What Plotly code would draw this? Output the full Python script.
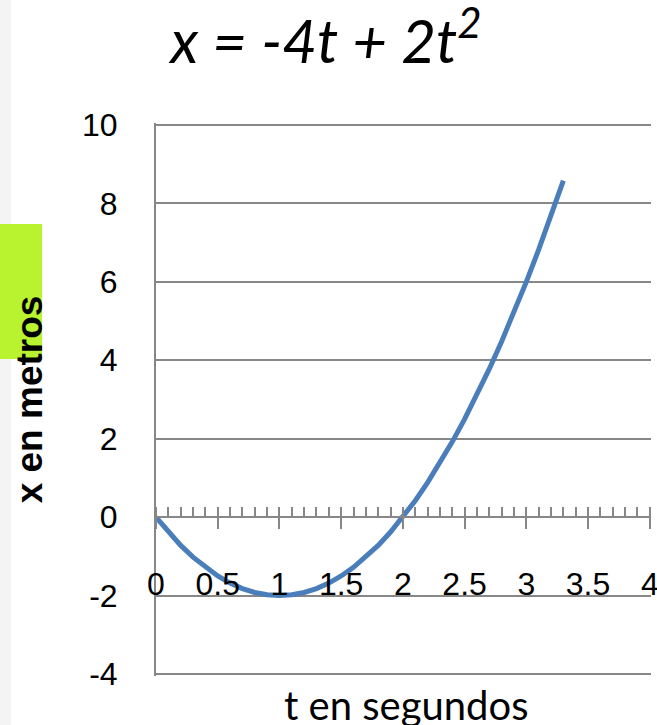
import plotly.graph_objects as go

# data: t (s) and x (m) (x = -4t + 2t^2)
t_vals = [0, 0.1, 0.2, 0.3, 0.4, 0.5, 0.6, 0.7, 0.8, 0.9, 1.0, 1.1, 1.2, 1.3, 1.4, 1.5, 1.6,
          1.7, 1.8, 1.9, 2.0, 2.1, 2.2, 2.3, 2.4, 2.5, 2.6, 2.7, 2.8, 2.9, 3.0, 3.1, 3.2, 3.3]
x_vals = [0, -0.38, -0.72, -1.02, -1.28, -1.5, -1.68, -1.82, -1.92, -1.98, -2.0, -1.98, -1.92,
          -1.82, -1.68, -1.5, -1.28, -1.02, -0.72, -0.38, 0, 0.42, 0.88, 1.38, 1.92, 2.5, 3.12,
          3.78, 4.48, 5.22, 6.0, 6.82, 7.68, 8.58]
x_ticks = [0, 0.5, 1, 1.5, 2, 2.5, 3, 3.5, 4]
x_tick_text = ["0", "0.5", "1", "1.5", "2", "2.5", "3", "3.5", "4"]
y_ticks = [-4, -2, 0, 2, 4, 6, 8, 10]
y_tick_text = ["-4", "-2", "0", "2", "4", "6", "8", "10"]

W, H = 657, 725
L, R, T, B = 156, 6, 123, 49
pw, ph = W - L - R, H - T - B
y_range = [-4.05, 10.05]
x_range = [0, 4.01]
axis_pos = (0 - y_range[0]) / (y_range[1] - y_range[0])

GRAY = "#878787"
BLUE = "#4A7EBB"

fig = go.Figure()
fig.add_trace(go.Scatter(x=t_vals, y=x_vals, mode="lines",
                         line=dict(color=BLUE, width=5), showlegend=False,
                         hoverinfo="skip"))
# invisible trace to enable overlay axis (upper half of major ticks)
fig.add_trace(go.Scatter(x=t_vals, y=x_vals, mode="lines", xaxis="x2",
                         line=dict(color="rgba(0,0,0,0)", width=0), showlegend=False,
                         hoverinfo="skip"))

tick_font = dict(family="Liberation Sans", size=32, color="black")

fig.update_layout(
    width=W, height=H,
    margin=dict(l=L, r=R, t=T, b=B, autoexpand=False),
    paper_bgcolor="white", plot_bgcolor="white",
    title=dict(text="<i>x = -4t + 2t<sup>2</sup></i>", x=326 / W, xanchor="center",
               y=1 - 42 / H, yanchor="middle",
               font=dict(family="Lato", size=60, color="black")),
    xaxis=dict(range=x_range, anchor="free", position=axis_pos,
               showline=True, linecolor=GRAY, linewidth=2,
               showgrid=False, zeroline=False,
               tickmode="array", tickvals=x_ticks, ticktext=x_tick_text,
               ticks="outside", ticklen=11, tickwidth=2, tickcolor=GRAY,
               minor=dict(dtick=0.1, ticks="inside", ticklen=9, tickwidth=1.5, tickcolor=GRAY),
               tickfont=tick_font, ticklabelstandoff=27, ticklabeloverflow="allow"),
    xaxis2=dict(range=x_range, overlaying="x", anchor="free", position=axis_pos,
                showline=False, showgrid=False, zeroline=False,
                tickmode="array", tickvals=x_ticks, showticklabels=False,
                ticks="inside", ticklen=9, tickwidth=2, tickcolor=GRAY),
    yaxis=dict(range=y_range, tickmode="array", tickvals=y_ticks, ticktext=y_tick_text,
               showline=True, linecolor=GRAY, linewidth=2,
               showgrid=True, gridcolor=GRAY, gridwidth=2, zeroline=False,
               ticks="", tickfont=tick_font, ticklabelstandoff=30,
               title=dict(text="<b>x en metros</b>", standoff=28,
                          font=dict(family="Liberation Sans", size=37, color="black"))),
    annotations=[dict(text="t en segundos", xref="paper", yref="paper",
                      x=(406 - L) / pw, y=(H - B - 705) / ph, xanchor="center", yanchor="middle",
                      showarrow=False, font=dict(family="Lato", size=40, color="black"))],
    shapes=[
        dict(type="rect", xref="paper", yref="paper",
             x0=(0 - L) / pw, x1=(11 - L) / pw, y0=-B / ph, y1=1 + T / ph,
             fillcolor="#F4F4F4", line=dict(width=0), layer="below"),
        dict(type="rect", xref="paper", yref="paper",
             x0=(0 - L) / pw, x1=(42 - L) / pw,
             y0=(H - B - 359) / ph, y1=(H - B - 224) / ph,
             fillcolor="#B9F22E", line=dict(width=0), layer="above"),
    ],
)

fig.write_html("out.html", config={"displayModeBar": False},
               post_script="document.body.style.margin='0';")
